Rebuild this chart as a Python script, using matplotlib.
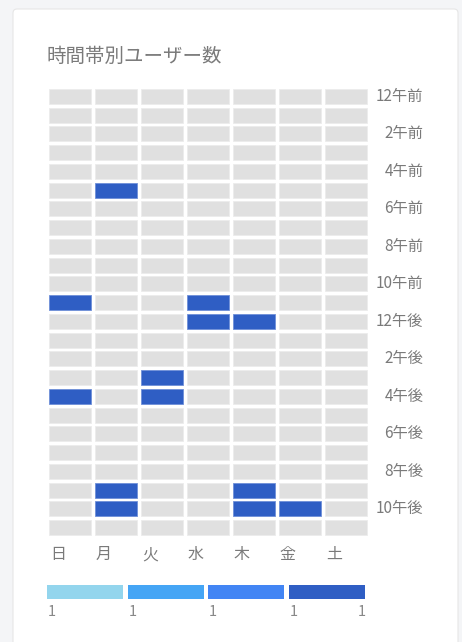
import matplotlib
matplotlib.use('Agg')
import matplotlib.pyplot as plt
from matplotlib.patches import Rectangle, FancyBboxPatch

plt.rcParams['font.family'] = ['Noto Sans CJK JP', 'DejaVu Sans']

title = '時間帯別ユーザー数'
days = ['日', '月', '火', '水', '木', '金', '土']
hour_labels = ['12午前', '2午前', '4午前', '6午前', '8午前', '10午前',
               '12午後', '2午後', '4午後', '6午後', '8午後', '10午後']
# users per hour (rows 0-23) and weekday (日..土)
users = [
    [0, 0, 0, 0, 0, 0, 0],  # 0
    [0, 0, 0, 0, 0, 0, 0],
    [0, 0, 0, 0, 0, 0, 0],
    [0, 0, 0, 0, 0, 0, 0],
    [0, 0, 0, 0, 0, 0, 0],
    [0, 1, 0, 0, 0, 0, 0],  # 5
    [0, 0, 0, 0, 0, 0, 0],
    [0, 0, 0, 0, 0, 0, 0],
    [0, 0, 0, 0, 0, 0, 0],
    [0, 0, 0, 0, 0, 0, 0],
    [0, 0, 0, 0, 0, 0, 0],
    [1, 0, 0, 1, 0, 0, 0],  # 11
    [0, 0, 0, 1, 1, 0, 0],  # 12
    [0, 0, 0, 0, 0, 0, 0],
    [0, 0, 0, 0, 0, 0, 0],
    [0, 0, 1, 0, 0, 0, 0],  # 15
    [1, 0, 1, 0, 0, 0, 0],  # 16
    [0, 0, 0, 0, 0, 0, 0],
    [0, 0, 0, 0, 0, 0, 0],
    [0, 0, 0, 0, 0, 0, 0],
    [0, 0, 0, 0, 0, 0, 0],
    [0, 1, 0, 0, 1, 0, 0],  # 21
    [0, 1, 0, 0, 1, 1, 0],  # 22
    [0, 0, 0, 0, 0, 0, 0],
]
legend_colors = ['#93d5ed', '#45a5f5', '#4285f4', '#2f5ec4']
legend_ticks = ['1', '1', '1', '1', '1']

W, H = 462, 642
fig = plt.figure(figsize=(W / 100, H / 100), dpi=100)
fig.patch.set_facecolor('#f4f5f7')

# card
bg = fig.add_axes([0, 0, 1, 1])
bg.set_xlim(0, W)
bg.set_ylim(H, 0)
bg.axis('off')
bg.add_patch(FancyBboxPatch((13, 9), 445, 660, boxstyle='round,pad=0,rounding_size=4',
                            facecolor='white', edgecolor='#e6e6e6', linewidth=0.8))
bg.text(47, 56, title, fontsize=14, color='#7a7a7a', va='center', ha='left')

# heatmap
ax = fig.add_axes([47 / W, (H - 537) / H, 322 / W, 450 / H])
ax.set_xlim(-0.5, 6.5)
ax.set_ylim(23.5, -0.5)
ax.axis('off')
cw, ch = 42 / 46, 15 / 18.75
for r, row in enumerate(users):
    for c, v in enumerate(row):
        color = legend_colors[-1] if v > 0 else '#e0e0e0'
        edge = '#6f8fd8' if v > 0 else '#ececec'
        ax.add_patch(Rectangle((c - cw / 2, r - ch / 2), cw, ch,
                               facecolor=color, edgecolor=edge, linewidth=0.6))
for i, lab in enumerate(hour_labels):
    ax.text(7.68, i * 2, lab, ha='right', va='center', fontsize=11, color='#7a7a7a',
            clip_on=False)
for c, d in enumerate(days):
    ax.text(c - cw / 2 + 0.02, 24.45, d, ha='left', va='center', fontsize=11.5,
            color='#7a7a7a', clip_on=False)

# legend
lax = fig.add_axes([47 / W, (H - 599) / H, 322 / W, 14 / H])
lax.set_xlim(0, 4)
lax.set_ylim(0, 1)
lax.axis('off')
lax.bar(range(4), [1] * 4, width=0.95, align='edge', color=legend_colors, linewidth=0)
for i, t in enumerate(legend_ticks):
    x = i if i < 4 else 3.95
    lax.text(x + 0.01, -0.95, t, ha='left' if i < 4 else 'right', va='center',
             fontsize=10.5, color='#888888', clip_on=False)

fig.savefig('out.png', dpi=100, facecolor=fig.get_facecolor())
